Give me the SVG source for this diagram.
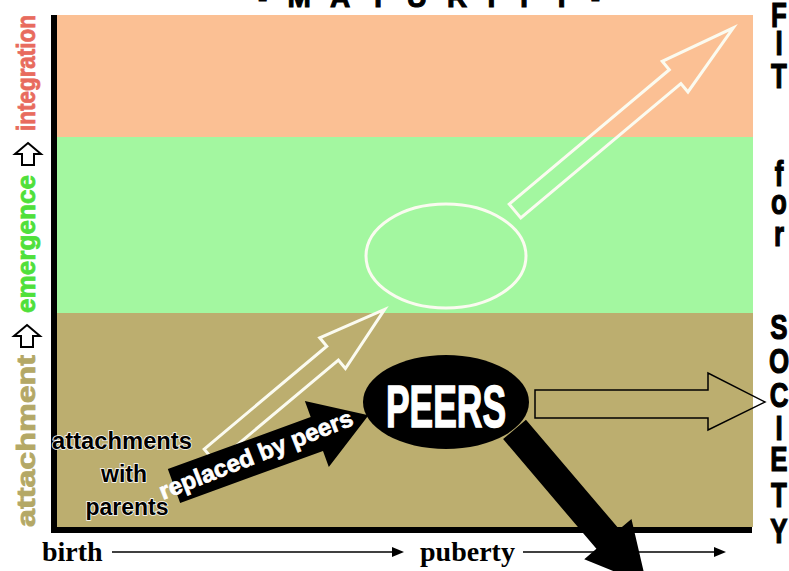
<svg xmlns="http://www.w3.org/2000/svg" width="789" height="571" viewBox="0 0 789 571">
<style>
.sans{font-family:"Liberation Sans",Arial,sans-serif;font-weight:bold}
.serif{font-family:"Liberation Serif","Times New Roman",serif;font-weight:bold}
.wout{fill:none;stroke:#fbfbf0;stroke-width:3;stroke-linejoin:miter}
.blk{fill:#000}
.halo{paint-order:stroke;stroke:#ffffff;stroke-width:1.5}
.col{font-size:36px;stroke:#000;stroke-width:1.2}
</style>
<rect width="789" height="571" fill="#ffffff"/>
<g id="bands">
<rect x="57" y="15" width="696" height="122" fill="#fbc094"/>
<rect x="57" y="137" width="696" height="176" fill="#a3f7a0"/>
<rect x="57" y="313" width="696" height="214" fill="#bcae6f"/>
<rect x="51" y="15" width="6" height="518" fill="#000"/>
<rect x="51" y="527" width="701" height="6" fill="#000"/>
</g>
<g id="title">
<text class="sans" x="258" y="7" font-size="28" stroke="#000" stroke-width="1" textLength="342" lengthAdjust="spacing">- M A T U R I T Y -</text>
</g>
<g id="left-labels">
<text class="sans" transform="translate(35,527) rotate(-90)" font-size="26" fill="#b4a866" stroke="#b4a866" stroke-width="0.8" textLength="172" lengthAdjust="spacingAndGlyphs">attachment</text>
<path d="M27 325 L40 336 L33 336 L33 347 L21 347 L21 336 L14 336 Z" fill="#fff" stroke="#000" stroke-width="2" stroke-linejoin="miter"/>
<text class="sans" transform="translate(35,313) rotate(-90)" font-size="26" fill="#4fe03a" stroke="#4fe03a" stroke-width="0.8" textLength="138" lengthAdjust="spacingAndGlyphs">emergence</text>
<path d="M28 143 L41 154 L34 154 L34 165 L22 165 L22 154 L15 154 Z" fill="#fff" stroke="#000" stroke-width="2" stroke-linejoin="miter"/>
<text class="sans" transform="translate(35,131) rotate(-90)" font-size="26" fill="#e86b5e" stroke="#e86b5e" stroke-width="0.8" textLength="116" lengthAdjust="spacingAndGlyphs">integration</text>
</g>
<g id="right-labels" transform="translate(779,0) scale(0.72,1)" text-anchor="middle">
<text class="sans col" x="0" y="27">F</text>
<text class="sans col" x="0" y="55">I</text>
<text class="sans col" x="0" y="88">T</text>
<text class="sans col" x="0" y="186">f</text>
<text class="sans col" x="0" y="214">o</text>
<text class="sans col" x="0" y="246">r</text>
<text class="sans col" x="0" y="339">S</text>
<text class="sans col" x="0" y="373">O</text>
<text class="sans col" x="0" y="407">C</text>
<text class="sans col" x="0" y="440">I</text>
<text class="sans col" x="0" y="471">E</text>
<text class="sans col" x="0" y="507">T</text>
<text class="sans col" x="0" y="543">Y</text>
</g>
<g id="axis">
<text class="serif" x="42" y="561" font-size="28">birth</text>
<line x1="112" y1="552" x2="394" y2="552" stroke="#000" stroke-width="1.5"/>
<polygon points="392,547 404,552 392,557" fill="#000"/>
<text class="serif" x="420" y="561" font-size="28">puberty</text>
<line x1="523" y1="552" x2="716" y2="552" stroke="#000" stroke-width="1.5"/>
<polygon points="714,547 726,552 714,557" fill="#000"/>
</g>
<g id="emergence-node">
<ellipse cx="446" cy="256" rx="80" ry="52" fill="none" stroke="#fbfbf0" stroke-width="3"/>
</g>
<g id="connectors">
<polygon class="wout" transform="translate(515,211) rotate(-40)" points="0,-9 209,-9 209,-20 285,0 209,20 209,9 0,9"/>
<polygon class="wout" transform="translate(210,456) rotate(-40)" points="0,-9 160,-9 160,-20 228,0 160,20 160,9 0,9"/>
<polygon class="blk" transform="translate(174,486) rotate(-20)" points="0,-18 152,-18 152,-35 207,0 152,35 152,18 0,18"/>
<text class="sans" transform="translate(163,500) rotate(-21.5)" font-size="24" fill="#ffffff" stroke="#ffffff" stroke-width="0.7" textLength="206" lengthAdjust="spacingAndGlyphs">replaced by peers</text>
<polygon points="535,390 708,390 708,373 765,402 708,430 708,418 535,418" fill="none" stroke="#000" stroke-width="1.5"/>
<polygon class="blk" transform="translate(521,437) rotate(49.6)" points="-10,-15 134,-15 134,-31 194,0 134,31 134,15 -10,15"/>
</g>
<g id="parents-node" text-anchor="middle">
<text class="sans halo" x="122" y="449" font-size="23" textLength="140" lengthAdjust="spacingAndGlyphs">attachments</text>
<text class="sans halo" x="124" y="482" font-size="23">with</text>
<text class="sans halo" x="127" y="515" font-size="23">parents</text>
</g>
<g id="peers-node">
<ellipse cx="446" cy="402" rx="83" ry="47" fill="#000"/>
<text class="sans" x="446" y="427" font-size="60" fill="#ffffff" stroke="#ffffff" stroke-width="1.5" text-anchor="middle" textLength="120" lengthAdjust="spacingAndGlyphs">PEERS</text>
</g>
</svg>
